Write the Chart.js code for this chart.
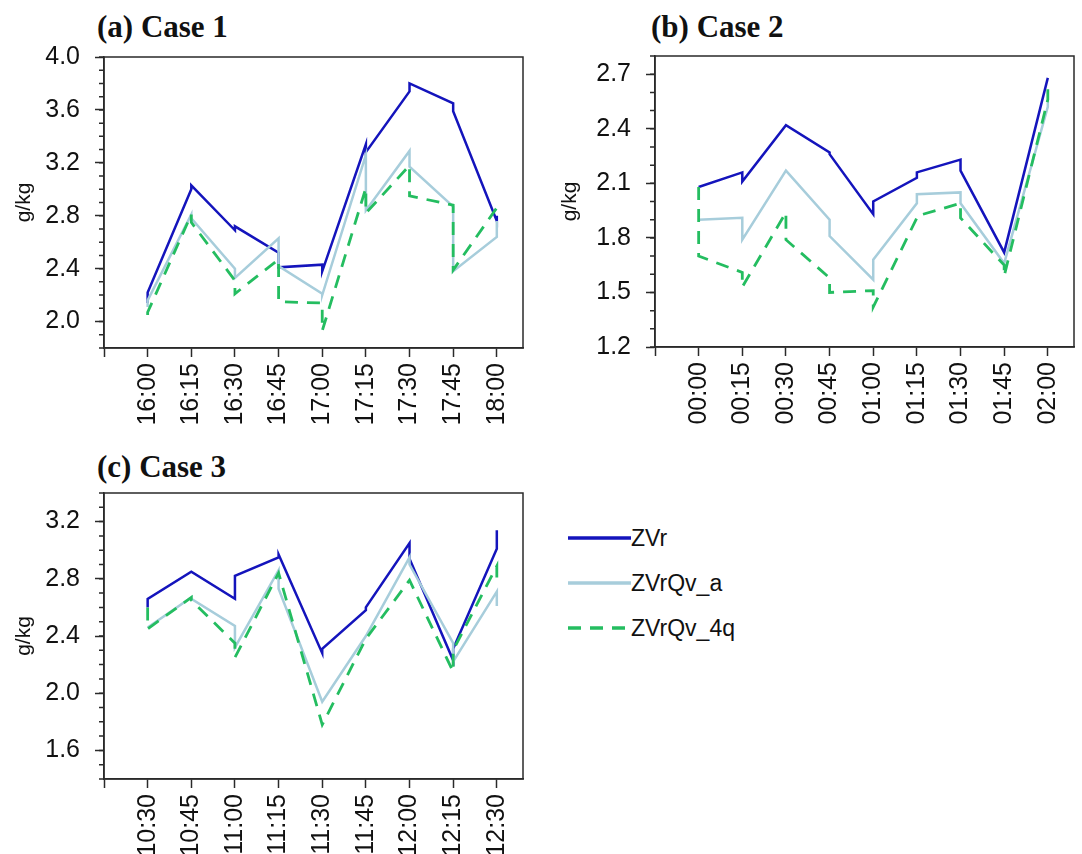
<!DOCTYPE html>
<html>
<head>
<meta charset="utf-8">
<script src="https://cdn.jsdelivr.net/npm/chart.js@4.4.1/dist/chart.umd.min.js"></script>
<style>
  body { margin: 0; background: #fff; }
  #page { position: relative; width: 1082px; height: 854px; overflow: hidden; background: #fff; }
  canvas { position: absolute; }
  .title { position: absolute; font: bold 31px "Liberation Serif", "Times New Roman", serif; line-height: 31px; color: #111; white-space: nowrap; }
  .key { position: absolute; left: 567px; height: 40px; display: flex; align-items: center; font: 23px "Liberation Sans", Arial, sans-serif; line-height: 40px; color: #111; }
  .key svg { display: block; }
</style>
</head>
<body>
<div id="page">
  <div class="title" style="left:97px; top:11px;">(a) Case 1</div>
  <div class="title" style="left:651px; top:11px;">(b) Case 2</div>
  <div class="title" style="left:97px; top:451px;">(c) Case 3</div>

  <canvas id="case1" width="540" height="430" style="left:0; top:0;"></canvas>
  <canvas id="case2" width="542" height="430" style="left:540px; top:0;"></canvas>
  <canvas id="case3" width="540" height="424" style="left:0; top:430px;"></canvas>

  <div id="legend"></div>
</div>
<script>
// two values per time step: the value the run reaches, then the value it restarts from
const case1Times = ['16:00', '16:15', '16:30', '16:45', '17:00', '17:15', '17:30', '17:45', '18:00'];
const case1ZVr     = [2.14, 2.22, 3.00, 3.03, 2.69, 2.72, 2.52, 2.41, 2.43, 2.38, 3.34, 3.28, 3.74, 3.80, 3.65, 3.59, 2.76, 2.80];
const case1ZVrQvA  = [2.11, 2.16, 2.81, 2.78, 2.40, 2.33, 2.63, 2.42, 2.21, 2.20, 3.26, 2.84, 3.29, 3.17, 2.87, 2.38, 2.64, 2.76];
const case1ZVrQv4q = [2.05, 2.07, 2.81, 2.75, 2.31, 2.21, 2.47, 2.15, 2.14, 1.93, 3.01, 2.82, 3.18, 2.95, 2.88, 2.39, 2.86, 2.84];
const case1YTicks  = [2.0, 2.4, 2.8, 3.2, 3.6, 4.0];

const case2Times = ['00:00', '00:15', '00:30', '00:45', '01:00', '01:15', '01:30', '01:45', '02:00'];
const case2ZVr     = [2.08, 2.08, 2.16, 2.11, 2.42, 2.42, 2.27, 2.26, 1.93, 2.00, 2.13, 2.16, 2.23, 2.17, 1.72, 1.72, 2.68, 2.68];
const case2ZVrQvA  = [1.90, 1.90, 1.91, 1.79, 2.17, 2.17, 1.90, 1.81, 1.57, 1.68, 1.99, 2.04, 2.05, 1.99, 1.66, 1.66, 2.52, 2.56];
const case2ZVrQv4q = [2.08, 1.70, 1.61, 1.53, 1.94, 1.79, 1.58, 1.50, 1.51, 1.42, 1.91, 1.92, 1.99, 1.91, 1.65, 1.59, 2.56, 2.63];
const case2YTicks  = [1.2, 1.5, 1.8, 2.1, 2.4, 2.7];

const case3Times = ['10:30', '10:45', '11:00', '11:15', '11:30', '11:45', '12:00', '12:15', '12:30'];
const case3ZVr     = [2.60, 2.66, 2.85, 2.85, 2.66, 2.82, 2.95, 2.97, 2.28, 2.31, 2.58, 2.60, 3.05, 2.94, 2.23, 2.31, 3.01, 3.14];
const case3ZVrQvA  = [2.46, 2.46, 2.67, 2.66, 2.47, 2.32, 2.86, 2.73, 1.94, 1.94, 2.40, 2.40, 2.95, 2.90, 2.35, 2.22, 2.71, 2.61];
const case3ZVrQv4q = [2.60, 2.45, 2.67, 2.65, 2.35, 2.25, 2.84, 2.84, 1.78, 1.78, 2.38, 2.38, 2.79, 2.79, 2.15, 2.30, 2.89, 2.80];
const case3YTicks  = [1.6, 2.0, 2.4, 2.8, 3.2];

const seriesNames = ['ZVr', 'ZVrQv_a', 'ZVrQv_4q'];
const seriesColors = ['#1414bc', '#a7cddb', '#24bd60'];
const seriesDash = [[], [], [13, 9]];

const axisColor = '#2a2a2a';
const textColor = '#111';
Chart.defaults.font.family = '"Liberation Sans", Arial, sans-serif';
Chart.defaults.color = textColor;

// frame around the plot area plus the short minor ticks on the value axis
const frameAndMinorTicks = {
    id: 'frameAndMinorTicks',
    afterDraw(chart, args, opts) {
        const { ctx, chartArea: a } = chart;
        const y = chart.scales.y;
        ctx.save();
        ctx.strokeStyle = axisColor;
        ctx.lineWidth = 1.5;
        ctx.strokeRect(a.left, a.top, a.right - a.left, a.bottom - a.top);
        ctx.beginPath();
        const n = Math.round((y.max - y.min) / opts.step);
        for (let i = 0; i <= n; i++) {
            const py = y.getPixelForValue(y.min + i * opts.step);
            ctx.moveTo(a.left - opts.length, py);
            ctx.lineTo(a.left, py);
        }
        ctx.stroke();
        ctx.restore();
    }
};

function toPoints(values) {
    return values.map((v, i) => ({ x: Math.floor(i / 2), y: v }));
}

function createCaseChart(id, times, series, yMin, yMax, yTicks, box) {
    const ctx = document.getElementById(id).getContext('2d');
    const axisLine = { color: axisColor, width: 1.5 };
    const tickGrid = { drawOnChartArea: false, tickLength: 9, tickWidth: 1.5, tickColor: axisColor };
    return new Chart(ctx, {
        type: 'line',
        data: {
            datasets: series.map((values, k) => ({
                label: seriesNames[k],
                data: toPoints(values),
                borderColor: seriesColors[k],
                borderWidth: k === 2 ? 2.8 : 2.5,
                borderDash: seriesDash[k],
                pointRadius: 0,
                tension: 0,
                order: 3 - k
            }))
        },
        options: {
            responsive: false,
            animation: false,
            layout: { padding: { left: 0, top: box.top, right: box.right, bottom: 0 } },
            plugins: {
                legend: { display: false },
                tooltip: { enabled: false },
                frameAndMinorTicks: { step: 0.1, length: 5 }
            },
            scales: {
                x: {
                    type: 'linear',
                    min: -1,
                    max: 8.6,
                    afterBuildTicks: s => { s.ticks = [-1].concat(times.map((_, i) => i)).map(v => ({ value: v })); },
                    afterFit: s => { s.height = box.xHeight; s.paddingLeft = 0; s.paddingRight = 0; },
                    grid: tickGrid,
                    border: axisLine,
                    ticks: {
                        autoSkip: false,
                        minRotation: 90,
                        maxRotation: 90,
                        padding: 6,
                        font: { size: 25 },
                        callback: v => times[v] ?? ''
                    }
                },
                y: {
                    min: yMin,
                    max: yMax,
                    afterBuildTicks: s => { s.ticks = yTicks.map(v => ({ value: v })); },
                    afterFit: s => { s.width = box.yWidth; s.paddingTop = 0; s.paddingBottom = 0; },
                    grid: tickGrid,
                    border: axisLine,
                    ticks: { padding: 15, font: { size: 25 }, callback: v => v.toFixed(1) },
                    title: { display: true, text: 'g/kg', font: { size: 21 }, padding: { top: box.titlePad, bottom: 0 } }
                }
            }
        },
        plugins: [frameAndMinorTicks]
    });
}

createCaseChart('case1', case1Times, [case1ZVr, case1ZVrQvA, case1ZVrQv4q], 1.8, 4.0, case1YTicks,
    { top: 57, right: 17, xHeight: 82, yWidth: 104, titlePad: 12 });
createCaseChart('case2', case2Times, [case2ZVr, case2ZVrQvA, case2ZVrQv4q], 1.2, 2.8, case2YTicks,
    { top: 56, right: 8, xHeight: 83, yWidth: 115, titlePad: 18 });
createCaseChart('case3', case3Times, [case3ZVr, case3ZVrQvA, case3ZVrQv4q], 1.4, 3.4, case3YTicks,
    { top: 63, right: 17, xHeight: 75, yWidth: 104, titlePad: 12 });

// legend shared by the three panels
const legend = document.getElementById('legend');
const legendY = [538, 583, 628];
seriesNames.forEach((name, k) => {
    const row = document.createElement('div');
    row.className = 'key';
    row.style.top = (legendY[k] - 20) + 'px';
    const dash = seriesDash[k].length ? ` stroke-dasharray="${seriesDash[k].join(' ')}"` : '';
    row.innerHTML = `<svg width="64" height="40"><line x1="1" y1="20" x2="64" y2="20" stroke="${seriesColors[k]}" stroke-width="3.5"${dash}/></svg><span>${name}</span>`;
    legend.appendChild(row);
});
</script>
</body>
</html>
